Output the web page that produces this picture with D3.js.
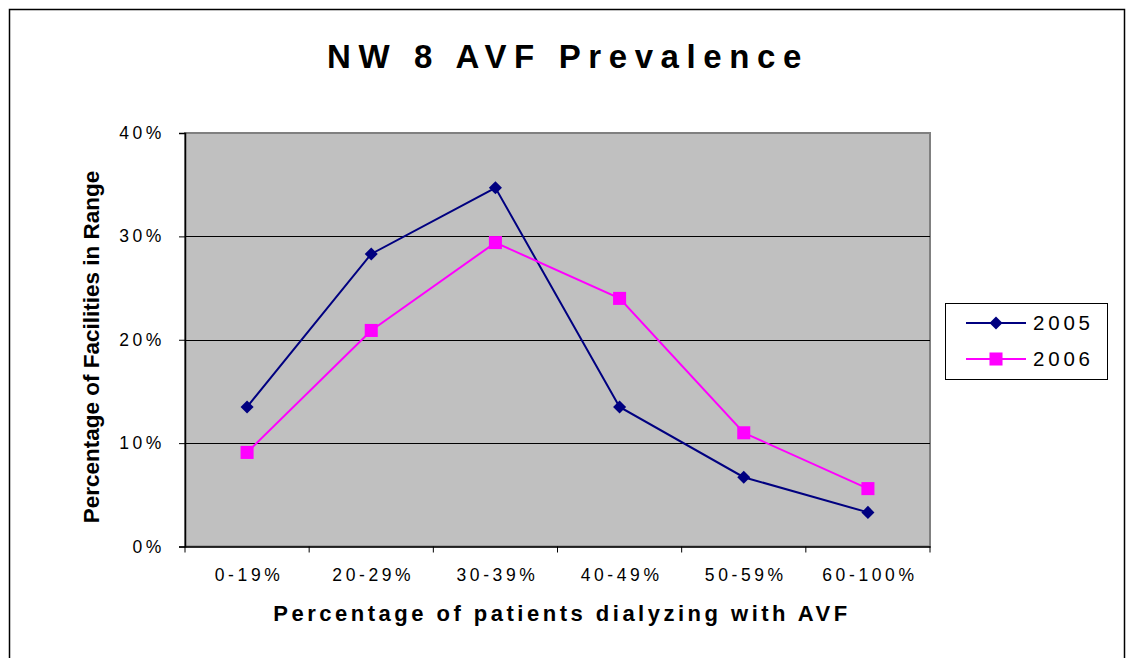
<!DOCTYPE html>
<html lang="en">
<head>
<meta charset="UTF-8">
<script src="https://cdn.jsdelivr.net/npm/d3@7"></script>
<style>
  body { margin: 0; background: #fff; }
  text { font-family: "Liberation Sans", Arial, sans-serif; }
</style>
</head>
<body>
<div id="chart"></div>
<script>
    // data
    var categories = ["0-19%", "20-29%", "30-39%", "40-49%", "50-59%", "60-100%"];
    var values2005 = [0.135, 0.283, 0.347, 0.135, 0.067, 0.033];
    var values2006 = [0.091, 0.209, 0.294, 0.240, 0.110, 0.056];
    var seriesNames = ["2005", "2006"];
    var yTicks = [0, 0.1, 0.2, 0.3, 0.4];

    var W = 1130, H = 658;
    var plot = {left: 185, top: 133, right: 930, bottom: 546.5};

    var svg = d3.select("#chart").append("svg")
        .attr("width", W)
        .attr("height", H);

    // outer chart border
    svg.append("rect")
        .attr("x", 9.5).attr("y", 9.5)
        .attr("width", 1115).attr("height", 660)
        .attr("fill", "#fff")
        .attr("stroke", "#000")
        .attr("stroke-width", 1.5);

    var x = d3.scaleBand()
        .domain(categories)
        .range([plot.left, plot.right]);

    var y = d3.scaleLinear()
        .domain([0, 0.4])
        .range([plot.bottom, plot.top]);

    // plot area
    svg.append("rect")
        .attr("x", plot.left).attr("y", plot.top)
        .attr("width", plot.right - plot.left)
        .attr("height", plot.bottom - plot.top)
        .attr("fill", "#c0c0c0")
        .attr("stroke", "#808080")
        .attr("stroke-width", 2);

    // gridlines
    svg.selectAll("line.grid")
        .data(yTicks.slice(1, 4))
        .enter()
        .append("line")
        .attr("class", "grid")
        .attr("x1", plot.left).attr("x2", plot.right)
        .attr("y1", function (d) { return Math.round(y(d)) + 0.5; })
        .attr("y2", function (d) { return Math.round(y(d)) + 0.5; })
        .attr("stroke", "#000")
        .attr("stroke-width", 1);

    // y axis
    var yAxis = d3.axisLeft(y)
        .tickValues(yTicks)
        .tickFormat(d3.format(".0%"))
        .tickSize(6)
        .tickPadding(18);

    var gy = svg.append("g")
        .attr("transform", "translate(" + plot.left + ",0)")
        .call(yAxis);
    gy.select(".domain").attr("stroke", "#000").attr("stroke-width", 1.5);
    gy.selectAll(".tick line").attr("stroke", "#000");
    gy.selectAll(".tick text")
        .attr("font-size", 17.5)
        .attr("letter-spacing", 3.6)
        .attr("dx", 4)
        .attr("fill", "#000");

    // x axis
    var xAxis = d3.axisBottom(x)
        .tickSize(0)
        .tickPadding(22);

    var gx = svg.append("g")
        .attr("transform", "translate(0," + plot.bottom + ")")
        .call(xAxis);
    gx.select(".domain").attr("stroke", "#000").attr("stroke-width", 1.5);
    gx.selectAll(".tick text")
        .attr("font-size", 17.5)
        .attr("letter-spacing", 3.6)
        .attr("dx", 2)
        .attr("fill", "#000");

    // x tick marks between categories
    var edges = categories.map(function (c) { return x(c); }).concat([plot.right]);
    svg.selectAll("line.xtick")
        .data(edges)
        .enter()
        .append("line")
        .attr("x1", function (d) { return d; })
        .attr("x2", function (d) { return d; })
        .attr("y1", plot.bottom).attr("y2", plot.bottom + 6)
        .attr("stroke", "#000");

    // diamond = square turned by 45 degrees
    var series = [
        {name: seriesNames[0], values: values2005, color: "#000080", shape: d3.symbolSquare, size: 85, rot: 45},
        {name: seriesNames[1], values: values2006, color: "#ff00ff", shape: d3.symbolSquare, size: 170, rot: 0}
    ];

    var line = d3.line()
        .x(function (d, i) { return x(categories[i]) + x.bandwidth() / 2; })
        .y(function (d) { return y(d); });

    series.forEach(function (s) {
        svg.append("path")
            .attr("d", line(s.values))
            .attr("fill", "none")
            .attr("stroke", s.color)
            .attr("stroke-width", 2);

        svg.selectAll(null)
            .data(s.values)
            .enter()
            .append("path")
            .attr("d", d3.symbol().type(s.shape).size(s.size))
            .attr("transform", function (d, i) {
                return "translate(" + (x(categories[i]) + x.bandwidth() / 2) + "," + y(d) + ") rotate(" + s.rot + ")";
            })
            .attr("fill", s.color);
    });

    // title
    svg.append("text")
        .attr("x", 568).attr("y", 68)
        .attr("text-anchor", "middle")
        .attr("font-size", 33)
        .attr("font-weight", "bold")
        .attr("letter-spacing", 7.6)
        .text("NW 8 AVF Prevalence");

    // axis titles
    svg.append("text")
        .attr("x", 562).attr("y", 621)
        .attr("text-anchor", "middle")
        .attr("font-size", 22)
        .attr("font-weight", "bold")
        .attr("letter-spacing", 3.5)
        .text("Percentage of patients dialyzing with AVF");

    svg.append("text")
        .attr("transform", "translate(99,347) rotate(-90)")
        .attr("text-anchor", "middle")
        .attr("font-size", 22.5)
        .attr("font-weight", "bold")
        .text("Percentage of Facilities in Range");

    // legend
    var lg = svg.append("g").attr("transform", "translate(945,303)");
    lg.append("rect")
        .attr("x", 0.5).attr("y", 0.5)
        .attr("width", 162).attr("height", 76)
        .attr("fill", "#fff")
        .attr("stroke", "#000");

    series.forEach(function (s, i) {
        var cy = 20 + i * 36;
        lg.append("line")
            .attr("x1", 21).attr("x2", 81)
            .attr("y1", cy).attr("y2", cy)
            .attr("stroke", s.color)
            .attr("stroke-width", 2);
        lg.append("path")
            .attr("d", d3.symbol().type(s.shape).size(s.size))
            .attr("transform", "translate(51," + cy + ") rotate(" + s.rot + ")")
            .attr("fill", s.color);
        lg.append("text")
            .attr("x", 88).attr("y", cy + 7)
            .attr("font-size", 20.5)
            .attr("letter-spacing", 3.8)
            .text(s.name);
    });
</script>
</body>
</html>
